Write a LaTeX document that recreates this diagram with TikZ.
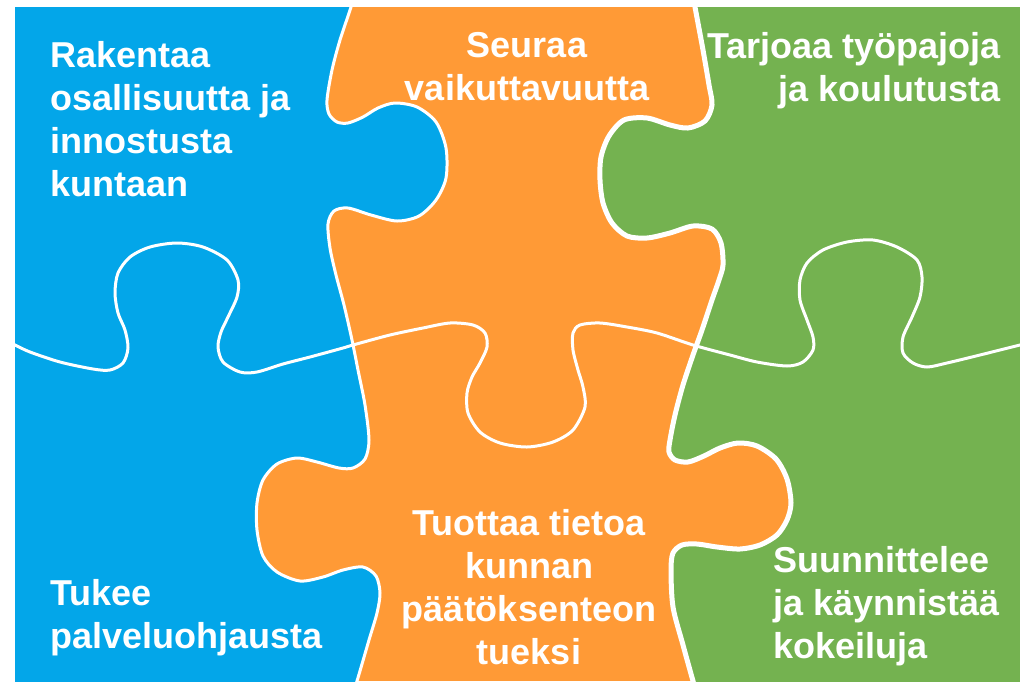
\documentclass[tikz,border=0pt]{standalone}
\usepackage{fontspec}
\setmainfont{Liberation Sans}
\definecolor{pblue}{RGB}{3,166,233}
\definecolor{porange}{RGB}{255,154,54}
\definecolor{pgreen}{RGB}{116,178,80}
\tikzset{
  seam/.style={draw=white, line width=3pt, line join=round},
  seamthick/.style={draw=white, line width=5pt, line join=round},
  lbl/.style={text=white, inner sep=0pt, font=\bfseries\fontsize{36}{43}\selectfont}
}
\begin{document}
\begin{tikzpicture}[x=1pt,y=-1pt]
\useasboundingbox (0,0) rectangle (1020,681);
\fill[white] (0,0) rectangle (1020,681);
\begin{scope}
\clip (15,7) rectangle (1020,681);
\fill[porange] (15,7) rectangle (1020,681);
% blue piece (left column)
\path[seam, fill=pblue] (-10,-10) -- plot[smooth, tension=0.5] coordinates {
 (355,-10) (351,7) (340,40) (332,70) (327,100) (329,114) (337,122) (348,123) (363,117) (378,108)
 (395,103) (417,107) (436,122) (446,148) (446,178) (436,200) (419,216) (397,221) (371,215)
 (348,208) (334,211) (328,224) (330,248) (336,275) (344,305) (352,340) (358,370) (365,405)
 (369,440) (365,459) (353,468) (339,468) (317,462) (297,458) (277,464) (263,480) (257,503)
 (257,530) (263,556) (277,572) (300,581) (323,577) (343,570) (363,567) (376,576) (380,593)
 (377,613) (369,640) (357,681) (352,695)} -- (-10,695) -- cycle;
% green piece (right column)
\path[seamthick, fill=pgreen] (1035,-10) -- plot[smooth, tension=0.5] coordinates {
 (692,-10) (695,7) (703,50) (709,85) (712,105) (705,121) (688,128) (670,125) (647,118) (624,120)
 (609,136) (601,157) (600,180) (603,203) (612,223) (627,236) (647,238) (670,233) (693,226)
 (712,229) (721,243) (723,265) (719,280) (712,300) (702,330) (693,355) (683,385) (675,415)
 (670,440) (669,452) (675,460) (688,462) (704,456) (720,448) (738,443) (757,446) (776,459)
 (787,479) (791,503) (787,520) (777,535) (760,545) (740,549) (717,547) (697,544) (682,545)
 (673,553) (671,570) (673,607) (683,645) (693,681) (697,695)} -- (1035,695) -- cycle;
% horizontal seam
\draw[seam] plot[smooth, tension=0.5] coordinates {
 (10,343) (15,345) (30,352) (60,362) (93,369) (110,370) (123,363) (128,348) (125,330) (118,313)
 (115,293) (118,273) (130,257) (150,247) (177,243) (203,247) (227,260) (238,280) (237,297)
 (228,317) (221,332) (218,347) (223,362) (240,372) (257,372) (283,364) (310,357) (343,348)
 (353,345) (390,335) (423,328) (450,323) (473,325) (485,333) (487,347) (480,363) (472,377)
 (467,393) (468,413) (480,432) (500,443) (527,447) (553,442) (573,430) (585,407) (583,387)
 (578,370) (573,350) (573,333) (580,325) (600,323) (627,327) (657,333) (693,345) (730,355)
 (757,362) (787,366) (803,362) (813,350) (813,337) (807,320) (800,300) (800,280) (807,263)
 (823,250) (847,242) (873,240) (897,247) (917,260) (922,277) (920,297) (912,317) (903,337)
 (903,353) (913,363) (927,367) (947,363) (980,355) (1020,345) (1030,343)};
\end{scope}
% labels
\node[lbl, anchor=north west, align=left] (t1) at (50,41) {Rakentaa\\osallisuutta ja\\innostusta\\kuntaan};
\node[lbl, anchor=north, align=center] (t2) at (527,32) {Seuraa\\vaikuttavuutta};
\node[lbl, anchor=north east, align=right] (t3) at (1001,32) {Tarjoaa työpajoja\\ja koulutusta};
\node[lbl, anchor=north west, align=left] (t4) at (50,579) {Tukee\\palveluohjausta};
\node[lbl, anchor=north, align=center] (t5) at (529,509) {Tuottaa tietoa\\kunnan\\päätöksenteon\\tueksi};
\node[lbl, anchor=north west, align=left] (t6) at (773,546) {Suunnittelee\\ja käynnistää\\kokeiluja};
\end{tikzpicture}
\end{document}
